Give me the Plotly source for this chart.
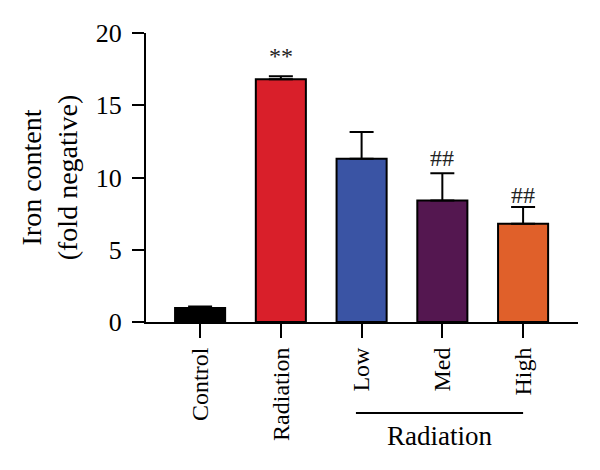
import plotly.graph_objects as go

categories = ["Control", "Radiation", "Low", "Med", "High"]
values = [0.97, 16.8, 11.3, 8.4, 6.8]
errors = [0.1, 0.2, 1.85, 1.9, 1.15]
colors = ["#000000", "#d91f2a", "#3a54a4", "#541750", "#e0602a"]
marks = ["", "**", "", "##", "##"]
mark_y = [0, 18.4, 0, 11.35, 8.8]
group_label = "Radiation"

FONT = "Liberation Serif"

fig = go.Figure()
fig.add_trace(go.Bar(
    x=categories, y=values,
    marker=dict(color=colors, line=dict(color="black", width=2)),
    width=0.62,
    error_y=dict(type="data", array=errors, arrayminus=[0]*5, symmetric=False,
                 color="black", thickness=2, width=12),
))

for c, m, y in zip(categories, marks, mark_y):
    if m:
        fig.add_annotation(x=c, y=y, text=m, showarrow=False,
                           font=dict(family=FONT, size=24, color="#222"))

fig.add_shape(type="line", xref="x", yref="paper", x0=1.93, x1=4.0, y0=-0.315, y1=-0.315,
              line=dict(color="black", width=2))
fig.add_annotation(xref="x", yref="paper", x=2.97, y=-0.455, text=group_label, showarrow=False,
                   font=dict(family=FONT, size=27, color="black"))

fig.update_layout(
    width=600, height=470,
    margin=dict(l=146, r=22, t=33, b=148),
    plot_bgcolor="white", paper_bgcolor="white",
    showlegend=False,
    font=dict(family=FONT, color="black"),
    bargap=0.38,
)
fig.update_xaxes(range=[-0.67, 4.68], showline=True, linecolor="black", linewidth=2,
                 ticks="outside", ticklen=14, tickwidth=2, tickcolor="black",
                 tickangle=-90, tickfont=dict(family=FONT, size=24), showgrid=False)
fig.update_yaxes(range=[0, 20], showline=True, linecolor="black", linewidth=2,
                 ticks="outside", ticklen=12, tickwidth=2, tickcolor="black",
                 tickvals=[0, 5, 10, 15, 20], tickfont=dict(family=FONT, size=26),
                 ticklabelstandoff=5,
                 showgrid=False, zeroline=False,
                 title=dict(text="Iron content<br>(fold negative)", font=dict(family=FONT, size=28), standoff=10))

fig.write_html("out.html")
